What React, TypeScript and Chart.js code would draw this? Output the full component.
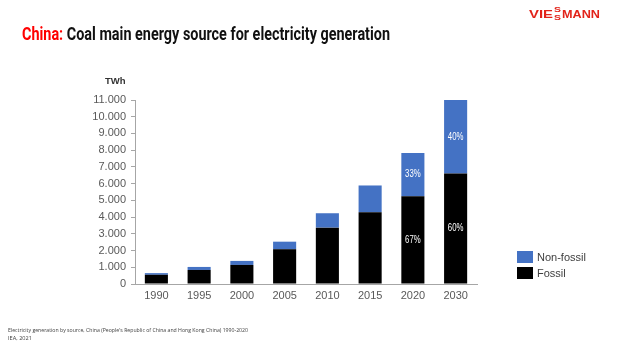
import React, { useEffect, useLayoutEffect, useRef } from "react";
import { Chart, registerables } from "chart.js";

Chart.register(...registerables);

const years = ["1990", "1995", "2000", "2005", "2010", "2015", "2020", "2030"];
const fossil = [550, 840, 1140, 2080, 3370, 4290, 5250, 6600];
const nonFossil = [100, 180, 240, 450, 860, 1600, 2580, 4400];
const fossilShare = ["", "", "", "", "", "", "67%", "60%"];
const nonFossilShare = ["", "", "", "", "", "", "33%", "40%"];
const yMax = 11000;
const yStep = 1000;

const BLUE = "#4472c4";
const BLACK = "#000000";
const GRAY = "#595959";

const shareLabels = [fossilShare, nonFossilShare];

const sharePlugin = {
  id: "shareLabels",
  afterDatasetsDraw(chart: any) {
    const ctx = chart.ctx;
    chart.data.datasets.forEach((_ds: any, di: number) => {
      const meta = chart.getDatasetMeta(di);
      meta.data.forEach((el: any, i: number) => {
        const txt = shareLabels[di][i];
        if (!txt) return;
        const p = el.getCenterPoint();
        ctx.save();
        ctx.translate(p.x, p.y);
        ctx.scale(0.78, 1);
        ctx.font = "10px 'Liberation Sans', Arial, sans-serif";
        ctx.fillStyle = "#ffffff";
        ctx.textAlign = "center";
        ctx.textBaseline = "middle";
        ctx.fillText(txt, 0, 0);
        ctx.restore();
      });
    });
  },
};

function FitText(props: { width: number; style: React.CSSProperties; children: React.ReactNode }) {
  const ref = useRef<HTMLSpanElement>(null);
  useLayoutEffect(() => {
    const el = ref.current;
    if (!el) return;
    el.style.transform = "none";
    const w = el.getBoundingClientRect().width;
    if (w > 0) el.style.transform = `scaleX(${props.width / w})`;
  });
  return (
    <span
      ref={ref}
      style={{
        position: "absolute",
        whiteSpace: "nowrap",
        transformOrigin: "0 0",
        display: "inline-block",
        ...props.style,
      }}
    >
      {props.children}
    </span>
  );
}

export default function App() {
  const canvasRef = useRef<HTMLCanvasElement>(null);

  useEffect(() => {
    if (!canvasRef.current) return;
    const chart = new Chart(canvasRef.current, {
      type: "bar",
      data: {
        labels: years,
        datasets: [
          { label: "Fossil", data: fossil, backgroundColor: BLACK },
          { label: "Non-fossil", data: nonFossil, backgroundColor: BLUE },
        ],
      },
      options: {
        animation: false,
        responsive: false,
        maintainAspectRatio: false,
        layout: { padding: { left: 0, top: 100, right: 145, bottom: 0 } },
        plugins: { legend: { display: false }, tooltip: { enabled: false } },
        datasets: { bar: { categoryPercentage: 1, barPercentage: 0.54 } },
        scales: {
          x: {
            stacked: true,
            grid: { display: false, drawTicks: false },
            border: { display: true, color: "#a6a6a6", width: 1 },
            ticks: {
              color: GRAY,
              padding: 5,
              font: { family: "'Liberation Sans', Arial, sans-serif", size: 11 },
            },
            afterFit(scale: any) {
              scale.height = 63;
            },
          },
          y: {
            stacked: true,
            min: 0,
            max: yMax,
            grid: { drawOnChartArea: false, drawTicks: true, tickLength: 4, color: "#a6a6a6" },
            border: { display: true, color: "#a6a6a6", width: 1 },
            ticks: {
              stepSize: yStep,
              color: GRAY,
              padding: 5,
              font: { family: "'Liberation Sans', Arial, sans-serif", size: 11 },
              callback: (v: any) => {
                const n = Number(v);
                return n.toString().replace(/\B(?=(\d{3})+(?!\d))/g, ".");
              },
            },
            afterFit(scale: any) {
              scale.width = 135;
            },
          },
        },
      },
      plugins: [sharePlugin],
    } as any);
    return () => chart.destroy();
  }, []);

  const legendItem = (color: string, label: string, top: number) => (
    <div style={{ position: "absolute", left: 517, top, height: 12, display: "flex", alignItems: "center" }}>
      <div style={{ width: 16, height: 12, background: color }} />
      <span
        style={{
          marginLeft: 4,
          fontFamily: "'Liberation Sans', Arial, sans-serif",
          fontSize: 11,
          color: "#404040",
          lineHeight: "12px",
        }}
      >
        {label}
      </span>
    </div>
  );

  const logoRed = "#e2231a";
  const logoFont: React.CSSProperties = {
    fontFamily: "'Liberation Sans', Arial, sans-serif",
    fontWeight: 700,
    color: logoRed,
    lineHeight: 1,
  };

  return (
    <div
      style={{
        position: "absolute",
        left: 0,
        top: 0,
        width: 622,
        height: 347,
        background: "#ffffff",
        overflow: "hidden",
      }}
    >
      <canvas ref={canvasRef} width={622} height={347} style={{ position: "absolute", left: 0, top: 0 }} />

      <FitText
        width={368}
        style={{
          left: 21.5,
          top: 25,
          fontFamily: "Roboto, 'Noto Sans', sans-serif",
          fontWeight: 700,
          fontSize: 18,
          lineHeight: "18px",
          color: "#111111",
        }}
      >
        <span style={{ color: "#ff0000" }}>China:</span> Coal main energy source for electricity generation
      </FitText>

      {/* logo */}
      <FitText width={24} style={{ ...logoFont, left: 529, top: 8.5, fontSize: 11 }}>
        VIE
      </FitText>
      <FitText width={7} style={{ ...logoFont, left: 554, top: 6, fontSize: 7.5, lineHeight: "7.5px" }}>
        S
      </FitText>
      <FitText width={7} style={{ ...logoFont, left: 554, top: 13.5, fontSize: 7.5, lineHeight: "7.5px" }}>
        S
      </FitText>
      <FitText width={38} style={{ ...logoFont, left: 562, top: 8.5, fontSize: 11 }}>
        MANN
      </FitText>

      {/* unit label */}
      <span
        style={{
          position: "absolute",
          left: 105,
          top: 76,
          fontFamily: "'Liberation Sans', Arial, sans-serif",
          fontWeight: 700,
          fontSize: 9.5,
          color: "#333333",
          lineHeight: "10px",
        }}
      >
        TWh
      </span>

      {legendItem(BLUE, "Non-fossil", 251)}
      {legendItem(BLACK, "Fossil", 267)}

      {/* footnote */}
      <FitText
        width={240}
        style={{
          left: 8,
          top: 327,
          fontFamily: "'Open Sans', 'Noto Sans', sans-serif",
          fontSize: 5.5,
          lineHeight: "7px",
          color: "#404040",
        }}
      >
        Electricity generation by source, China (People's Republic of China and Hong Kong China) 1990-2020
      </FitText>
      <FitText
        width={24}
        style={{
          left: 8,
          top: 334.5,
          fontFamily: "'Open Sans', 'Noto Sans', sans-serif",
          fontSize: 5.5,
          lineHeight: "7px",
          color: "#404040",
        }}
      >
        IEA, 2021
      </FitText>
    </div>
  );
}
